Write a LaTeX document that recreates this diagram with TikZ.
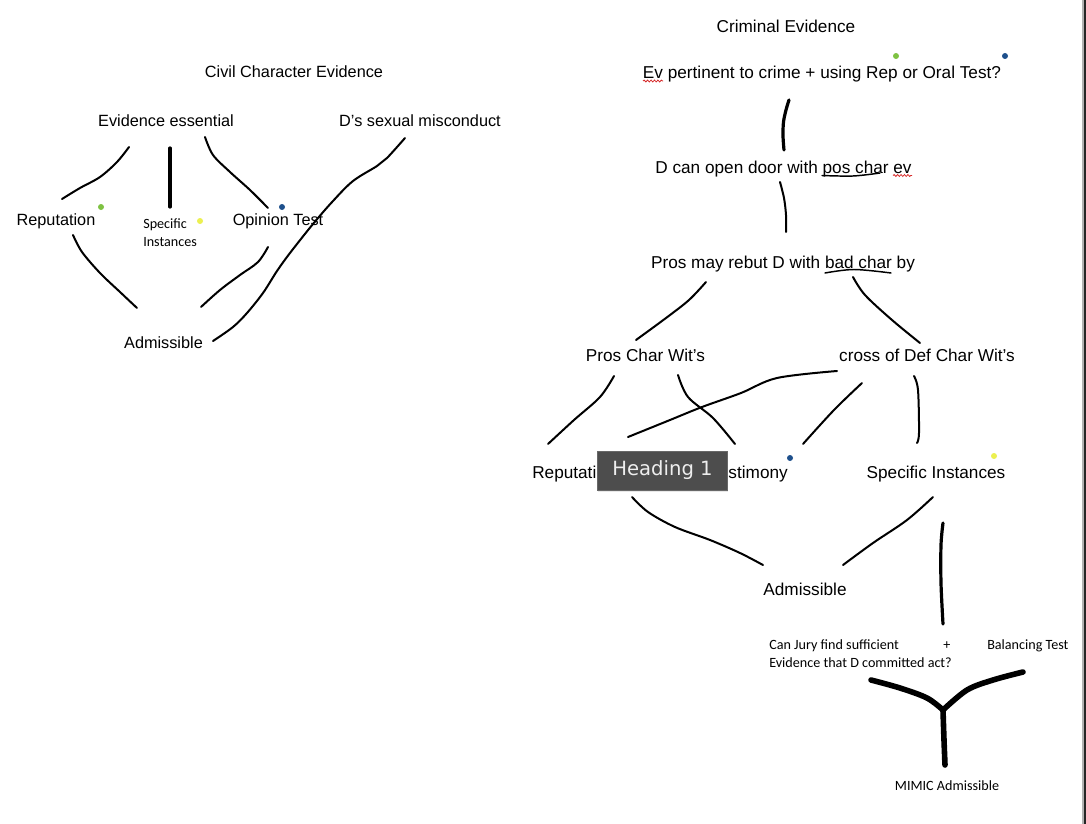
\documentclass[tikz,border=0pt]{standalone}
\usepackage{fontspec}
\setmainfont{Liberation Sans}
\newfontfamily\calib{Carlito}
\newfontfamily\dejav{DejaVu Sans}
\usetikzlibrary{decorations.pathmorphing,shadows}
\definecolor{dotgreen}{RGB}{126,194,66}
\definecolor{dotyellow}{RGB}{236,240,80}
\definecolor{dotblue}{RGB}{30,80,140}
\definecolor{squig}{RGB}{215,40,40}
\definecolor{hdgray}{RGB}{77,77,77}
\definecolor{hdtext}{RGB}{238,238,238}
\tikzset{
  lt/.style={font=\fontsize{12.2}{14}\selectfont, inner sep=0pt},
  rt/.style={font=\fontsize{12.9}{15}\selectfont, inner sep=0pt},
  sm/.style={font=\calib\fontsize{10.6}{13.5}\selectfont, inner sep=0pt},
  hand/.style={line width=1.5pt, line cap=round, line join=round},
  thickhand/.style={line width=2.4pt, line cap=round, line join=round},
  heavyhand/.style={line width=4.2pt, line cap=round, line join=round},
  uline/.style={line width=1.1pt, line cap=round},
  squiggle/.style={draw=squig, line width=0.6pt, decorate,
    decoration={snake, amplitude=0.7pt, segment length=2.6pt}},
  dotg/.style={fill=dotgreen},
  doty/.style={fill=dotyellow},
  dotb/.style={fill=dotblue},
  headbox/.style={fill=hdgray, draw=hdgray!85!white, line width=0.6pt,
    minimum width=97.5pt, minimum height=29.3pt, inner sep=0pt,
    text=hdtext, font=\dejav\fontsize{14.7}{16}\selectfont,
    drop shadow={opacity=0.18, shadow xshift=0pt, shadow yshift=-1.2pt}},
  sm line/.style={smooth, tension=0.55}
}
\begin{document}
\begin{tikzpicture}[x=0.75pt, y=-0.75pt]
\useasboundingbox (0,0) rectangle (1086,824);
\fill[white] (0,0) rectangle (1086,824);
% right window edge
\fill[black!30] (1082,0) rectangle (1083.6,824);
\fill[black!85] (1083.6,0) rectangle (1086,824);

% ---------------- left diagram: civil ----------------
\node[lt, anchor=base] (civ) at (294,78) {Civil Character Evidence};
\node[lt, anchor=base] (ee) at (166,127) {Evidence essential};
\node[lt, anchor=base] (dsm) at (420,127) {D’s sexual misconduct};
\node[lt, anchor=base] (repL) at (56,225) {Reputation};
\node[sm, anchor=base west] (specL) at (143,228) {\begin{tabular}[t]{@{}l@{}}Specific\\Instances\end{tabular}};
\node[lt, anchor=base] (opL) at (278,225) {Opinion Test};
\node[lt, anchor=base] (admL) at (163.5,348) {Admissible};

\fill[dotg] (101,207) circle (2.25pt);
\fill[doty] (200,221) circle (2.25pt);
\fill[dotb] (282,207) circle (2.25pt);

% connector end points (left)
\coordinate (ee-rep) at (129,147);  \coordinate (rep-ee) at (62,199);
\coordinate (ee-spec) at (170,148); \coordinate (spec-ee) at (170,207);
\coordinate (ee-op) at (205,137);   \coordinate (op-ee) at (268,208);
\coordinate (rep-adm) at (73,235);  \coordinate (adm-rep) at (137,308);
\coordinate (op-adm) at (268,247);  \coordinate (adm-op) at (201,307);
\coordinate (dsm-adm) at (405,138); \coordinate (adm-dsm) at (213,341);

\draw[hand] plot[sm line] coordinates {(ee-rep) (117,162) (100,177) (80,188) (rep-ee)};
\draw[thickhand] (ee-spec) -- (spec-ee);
\draw[hand] plot[sm line] coordinates {(ee-op) (213,155) (230,172) (250,190) (op-ee)};
\draw[hand] plot[sm line] coordinates {(rep-adm) (82,252) (100,273) (120,292) (adm-rep)};
\draw[hand] plot[sm line] coordinates {(op-adm) (258,262) (240,275) (220,290) (adm-op)};
\draw[hand] plot[sm line] coordinates {(dsm-adm) (387,158) (377,166) (353,181) (333,201) (313,224) (290,253) (277,271) (263,293) (247,313) (233,327) (adm-dsm)};

% ---------------- right diagram: criminal ----------------
\node[rt, anchor=base] (crim) at (786,33) {Criminal Evidence};
\node[rt, anchor=base] (evp) at (822,79) {Ev pertinent to crime + using Rep or Oral Test?};
\node[rt, anchor=base] (dcan) at (783.5,173) {D can open door with pos char ev};
\node[rt, anchor=base] (pros) at (783,268) {Pros may rebut D with bad char by};
\node[rt, anchor=base] (pcw) at (645.5,361) {Pros Char Wit’s};
\node[rt, anchor=base] (cross) at (927,361) {cross of Def Char Wit’s};
\node[rt, anchor=base west] (repR) at (532,478) {Reputatio};
\node[rt, anchor=base east] (optR) at (788,478) {estimony};
\node[rt, anchor=base] (siR) at (936,478) {Specific Instances};
\node[rt, anchor=base] (admR) at (805,595) {Admissible};
\node[sm, anchor=base west] (jury) at (769,649) {\begin{tabular}[t]{@{}l@{}}Can Jury find sufficient\\Evidence that D committed act?\end{tabular}};
\node[sm, anchor=base] (plus) at (947,649) {+};
\node[sm, anchor=base west] (bal) at (987,649) {Balancing Test};
\node[sm, anchor=base] (mimic) at (947,790.5) {MIMIC Admissible};

\fill[dotg] (896,56) circle (2.25pt);
\fill[dotb] (1005,56) circle (2.25pt);
\fill[dotb] (790,458) circle (2.25pt);
\fill[doty] (994,456) circle (2.25pt);

% spelling squiggles and hand underlines
\coordinate (sq1a) at (643,81); \coordinate (sq1b) at (663,81);
\coordinate (sq2a) at (893,175.5); \coordinate (sq2b) at (912,175.5);
\draw[squiggle] (sq1a) -- (sq1b);
\draw[squiggle] (sq2a) -- (sq2b);
\coordinate (ul1a) at (822,175.5); \coordinate (ul1b) at (880,173);
\coordinate (ul2a) at (825,273);   \coordinate (ul2b) at (891,273);
\draw[uline] plot[sm line] coordinates {(ul1a) (853,176) (ul1b)};
\draw[uline] plot[sm line] coordinates {(ul2a) (854,269.5) (ul2b)};

% connector end points (right)
\coordinate (evp-dcan) at (789,100);  \coordinate (dcan-evp) at (784,150);
\coordinate (dcan-pros) at (780,182); \coordinate (pros-dcan) at (786,232);
\coordinate (pros-pcw) at (706,282);  \coordinate (pcw-pros) at (636,340);
\coordinate (pros-cross) at (853,277);\coordinate (cross-pros) at (920,343);
\coordinate (pcw-rep) at (614,376);   \coordinate (rep-pcw) at (548,444);
\coordinate (pcw-opt) at (678,375);   \coordinate (opt-pcw) at (735,444);
\coordinate (cross-rep) at (837,371); \coordinate (rep-cross) at (628,437);
\coordinate (cross-opt) at (862,383); \coordinate (opt-cross) at (803,444);
\coordinate (cross-si) at (914,376);  \coordinate (si-cross) at (917,443);
\coordinate (rep-admR) at (632,497);  \coordinate (admR-rep) at (763,565);
\coordinate (si-admR) at (933,497);   \coordinate (admR-si) at (843,565);
\coordinate (si-jury) at (943,523);   \coordinate (jury-si) at (943,624);
\coordinate (jury-y) at (871,680);    \coordinate (bal-y) at (1023,672);
\coordinate (yjoin) at (943,710);     \coordinate (mimic-y) at (945,765);

\draw[thickhand] plot[sm line] coordinates {(evp-dcan) (786,110) (783.5,122) (783,136) (dcan-evp)};
\draw[hand] plot[sm line] coordinates {(dcan-pros) (784,198) (786,215) (pros-dcan)};
\draw[hand] plot[sm line] coordinates {(pros-pcw) (689,300) (666,318) (pcw-pros)};
\draw[hand] plot[sm line] coordinates {(pros-cross) (865,295) (892,320) (cross-pros)};
\draw[hand] plot[sm line] coordinates {(pcw-rep) (600,397) (574,420) (rep-pcw)};
\draw[hand] plot[sm line] coordinates {(pcw-opt) (688,397) (713,418) (opt-pcw)};
\draw[hand] plot[sm line] coordinates {(cross-rep) (777,378) (741,393) (702,407) (670,420) (rep-cross)};
\draw[hand] plot[sm line] coordinates {(cross-opt) (834,410) (opt-cross)};
\draw[hand] plot[sm line] coordinates {(cross-si) (918,390) (919,433) (si-cross)};
\draw[hand] plot[sm line] coordinates {(rep-admR) (648,512) (675,527) (710,540) (740,553) (admR-rep)};
\draw[hand] plot[sm line] coordinates {(si-admR) (907,520) (873,543) (admR-si)};
\draw[thickhand] plot[sm line] coordinates {(si-jury) (941,545) (941,583) (jury-si)};
\draw[heavyhand] plot[sm line] coordinates {(jury-y) (900,688) (927,698) (yjoin)};
\draw[heavyhand] plot[sm line] coordinates {(bal-y) (993,680) (967,690) (yjoin)};
\draw[heavyhand] plot[sm line] coordinates {(yjoin) (944,740) (mimic-y)};

% tooltip overlay
\node[headbox] (hd) at (662.5,470.5) {Heading 1};
\end{tikzpicture}
\end{document}
